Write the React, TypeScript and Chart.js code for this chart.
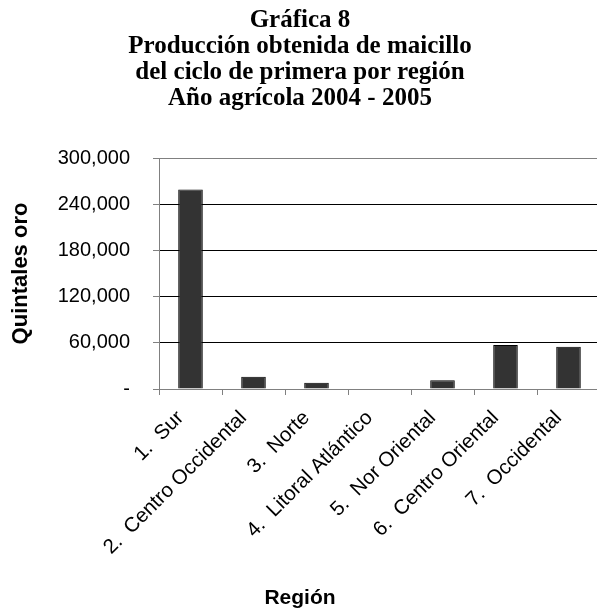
import React, { useEffect, useRef } from "react";
import { Chart, registerables } from "chart.js";

Chart.register(...registerables);

const titleLines = [
  "Gráfica 8",
  "Producción obtenida de maicillo",
  "del ciclo de primera por región",
  "Año agrícola 2004 - 2005",
];
const regions = [
  "1.  Sur",
  "2.  Centro Occidental",
  "3.  Norte",
  "4.  Litoral Atlántico",
  "5.  Nor Oriental",
  "6.  Centro Oriental",
  "7.  Occidental",
];
const production = [259000, 16000, 8200, 0, 11300, 57000, 54900];
const yTicks = [0, 60000, 120000, 180000, 240000, 300000];
const yTitle = "Quintales oro";
const xTitle = "Región";

const CANVAS_W = 600;
const CANVAS_H = 613;

export default function App() {
  const ref = useRef<HTMLCanvasElement | null>(null);
  useEffect(() => {
    if (!ref.current) return;
    const chart = new Chart(ref.current, {
      type: "bar",
      data: {
        labels: regions,
        datasets: [
          {
            data: production,
            backgroundColor: "#333333",
            borderColor: "#000000",
            borderWidth: 1,
            categoryPercentage: 1,
            barPercentage: 0.39,
          },
        ],
      },
      options: {
        responsive: false,
        animation: false,
        devicePixelRatio: 1,
        layout: { padding: { left: 0, right: 0, top: 0, bottom: 0 } },
        plugins: {
          legend: { display: false },
          tooltip: { enabled: false },
          title: {
            display: true,
            text: titleLines,
            color: "#000",
            font: { family: "'Liberation Serif', 'Times New Roman', serif", size: 25, weight: "bold", lineHeight: 1.03 },
            padding: { top: 8, bottom: 47 },
          },
          subtitle: {
            display: true,
            position: "bottom",
            text: xTitle,
            color: "#000",
            font: { family: "'Liberation Sans', Arial, sans-serif", size: 21, weight: "bold", lineHeight: 1.2 },
            padding: { top: 0, bottom: 2 },
          },
        },
        scales: {
          x: {
            grid: {
              offset: true,
              drawOnChartArea: false,
              drawTicks: true,
              tickLength: 6,
              color: "#808080",
            },
            border: { display: true, color: "#808080", width: 1 },
            ticks: {
              autoSkip: false,
              maxRotation: 45,
              minRotation: 45,
              color: "#000",
              padding: 11,
              labelOffset: -10,
              font: { family: "'Liberation Sans', Arial, sans-serif", size: 20.5 },
            },
            afterFit: (scale: any) => {
              scale.height = CANVAS_H - 389 - (21 * 1.2 + 2);
            },
          },
          y: {
            min: 0,
            max: 300000,
            afterBuildTicks: (scale: any) => {
              scale.ticks = yTicks.map((v) => ({ value: v }));
            },
            grid: {
              drawTicks: true,
              tickLength: 6,
              color: (ctx: any) =>
                ctx.tick && (ctx.tick.value === 0 || ctx.tick.value === 300000) ? "#808080" : "#000000",
              tickColor: "#808080",
            },
            border: { display: true, color: "#808080", width: 1 },
            ticks: {
              color: "#000",
              padding: 23,
              font: { family: "'Liberation Sans', Arial, sans-serif", size: 20 },
              callback: (v: any) => (Number(v) === 0 ? "-" : Number(v).toLocaleString("en-US")),
            },
            title: {
              display: true,
              text: yTitle,
              color: "#000",
              font: { family: "'Liberation Sans', Arial, sans-serif", size: 22, weight: "bold" },
              padding: { top: 8, bottom: 0 },
            },
            afterFit: (scale: any) => {
              scale.width = 159;
            },
          },
        },
      },
    });
    return () => chart.destroy();
  }, []);
  return (
    <div
      style={{
        position: "fixed",
        left: 0,
        top: 0,
        width: 597,
        height: 613,
        overflow: "hidden",
        background: "#fff",
      }}
    >
      <canvas ref={ref} width={CANVAS_W} height={CANVAS_H} style={{ display: "block", width: CANVAS_W, height: CANVAS_H }} />
    </div>
  );
}
